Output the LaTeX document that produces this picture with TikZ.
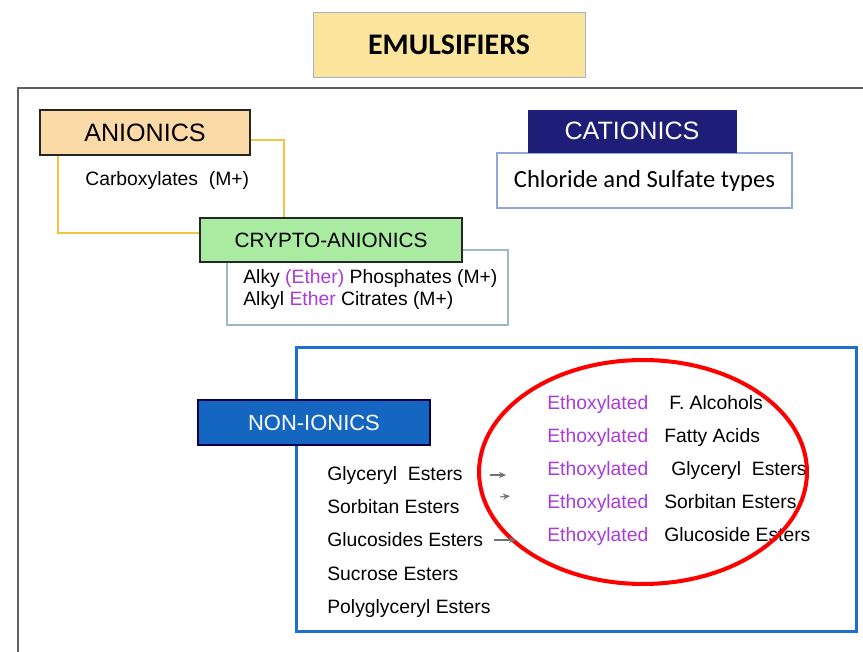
\documentclass[tikz,border=0pt]{standalone}
\usepackage{fontspec}
\setmainfont{Liberation Sans}
\newfontfamily\calib{Carlito}
\usepackage{tikz}
\usetikzlibrary{arrows.meta}

\definecolor{emfill}{HTML}{FBE59C}
\definecolor{emline}{HTML}{A3B3CC}
\definecolor{anfill}{HTML}{FCDAA8}
\definecolor{anline}{HTML}{F5C242}
\definecolor{crfill}{HTML}{A9EBA0}
\definecolor{crline}{HTML}{9EB9C2}
\definecolor{cafill}{HTML}{1E1E78}
\definecolor{caline}{HTML}{8FA8D8}
\definecolor{nofill}{HTML}{1466C0}
\definecolor{noline}{HTML}{1E6FD0}
\definecolor{ethc}{HTML}{A93CD8}

\begin{document}
\begin{tikzpicture}[x=0.02cm, y=-0.02cm,
    head/.style={draw=black!85, line width=1.1pt, inner sep=0pt},
    frame/.style={draw, fill=white, inner sep=0pt},
    txt/.style={anchor=base west, inner sep=0pt, font=\fontsize{11}{13}\selectfont},
    stub/.style={draw=black!55, line width=0.6pt, -{Stealth[length=4pt,width=3.5pt]}}]
    \useasboundingbox (0,0) rectangle (863,652);
    %\fill[white] (0,0) rectangle (863,652);
    \draw[gray!75!black, line width=1.5pt] (18,652)--(18,88)--(863,88);
    \node[draw=emline, fill=emfill, inner sep=0pt, minimum width=5.44cm, minimum height=1.3cm,
        font=\calib\bfseries\fontsize{17}{20}\selectfont] (emul) at (449,44.5) {EMULSIFIERS};

    \node[frame, draw=anline, line width=0.9pt, minimum width=4.52cm, minimum height=1.86cm] (anbox) at (171,186.5) {};
    \node[head, fill=anfill, minimum width=4.2cm, minimum height=0.9cm,
        font=\fontsize{14.3}{16}\selectfont] (anion) at (145,132.5) {ANIONICS};
    \node[txt] (carb) at (85,186) {Carboxylates\ \ (M+)};

    \node[frame, draw=crline, line width=0.9pt, minimum width=5.62cm, minimum height=1.5cm] (crbox) at (367.5,287.5) {};
    \node[head, fill=crfill, minimum width=5.24cm, minimum height=0.88cm,
        font=\fontsize{11.8}{14}\selectfont] (crypto) at (331,240) {CRYPTO-ANIONICS};
    \node[txt] (phos) at (243,283) {Alky \textcolor{ethc}{(Ether)} Phosphates (M+)};
    \node[txt] (citr) at (243,305) {Alkyl \textcolor{ethc}{Ether} Citrates (M+)};

    \node[frame, draw=caline, line width=0.9pt, minimum width=5.9cm, minimum height=1.1cm,
        font=\calib\fontsize{14}{16}\selectfont] (cabox) at (644.5,180.5) {Chloride and Sulfate types};
    \node[draw=cafill, fill=cafill, text=white, inner sep=0pt, minimum width=4.16cm, minimum height=0.84cm,
        font=\fontsize{14.3}{16}\selectfont] (cation) at (632,131) {CATIONICS};

    \node[frame, draw=noline, line width=1.7pt, minimum width=11.22cm, minimum height=5.7cm] (nobox) at (576.5,489.5) {};
    \node[head, draw=black!70!blue, fill=nofill, text=white, minimum width=4.64cm, minimum height=0.9cm,
        font=\fontsize{12.5}{15}\selectfont] (nonion) at (314,422.5) {NON-IONICS};

    \node[txt] (gly) at (327,480) {Glyceryl\ \ Esters};
    \node[txt] (sorb) at (327,513) {Sorbitan Esters};
    \node[txt] (gluc) at (327,546) {Glucosides Esters};
    \node[txt] (sucr) at (327,580) {Sucrose Esters};
    \node[txt] (poly) at (327,613) {Polyglyceryl Esters};

    \node[txt, text=ethc] (eth1) at (547,409) {Ethoxylated};
    \node[txt, text=ethc] (eth2) at (547,442) {Ethoxylated};
    \node[txt, text=ethc] (eth3) at (547,475) {Ethoxylated};
    \node[txt, text=ethc] (eth4) at (547,508) {Ethoxylated};
    \node[txt, text=ethc] (eth5) at (547,541) {Ethoxylated};
    \node[txt] (alc) at (669,409) {F. Alcohols};
    \node[txt] (fat) at (664,442) {Fatty Acids};
    \node[txt] (egly) at (671,475) {Glyceryl\ \ Esters};
    \node[txt] (esorb) at (664,508) {Sorbitan Esters};
    \node[txt] (egluc) at (664,541) {Glucoside Esters};

    \draw[red, line width=2.3pt] (643,472) ellipse [x radius=3.28cm, y radius=2.24cm];

    \coordinate (s1) at (490,475);
    \coordinate (e1) at (506,475);
    \coordinate (s2) at (500,497);
    \coordinate (e2) at (510,496);
    \coordinate (s3) at (494,540);
    \coordinate (e3) at (516,540);
    \draw[stub] (s1)--(e1);
    \draw[stub] (s2)--(e2);
    \draw[stub] (s3)--(e3);
\end{tikzpicture}
\end{document}
